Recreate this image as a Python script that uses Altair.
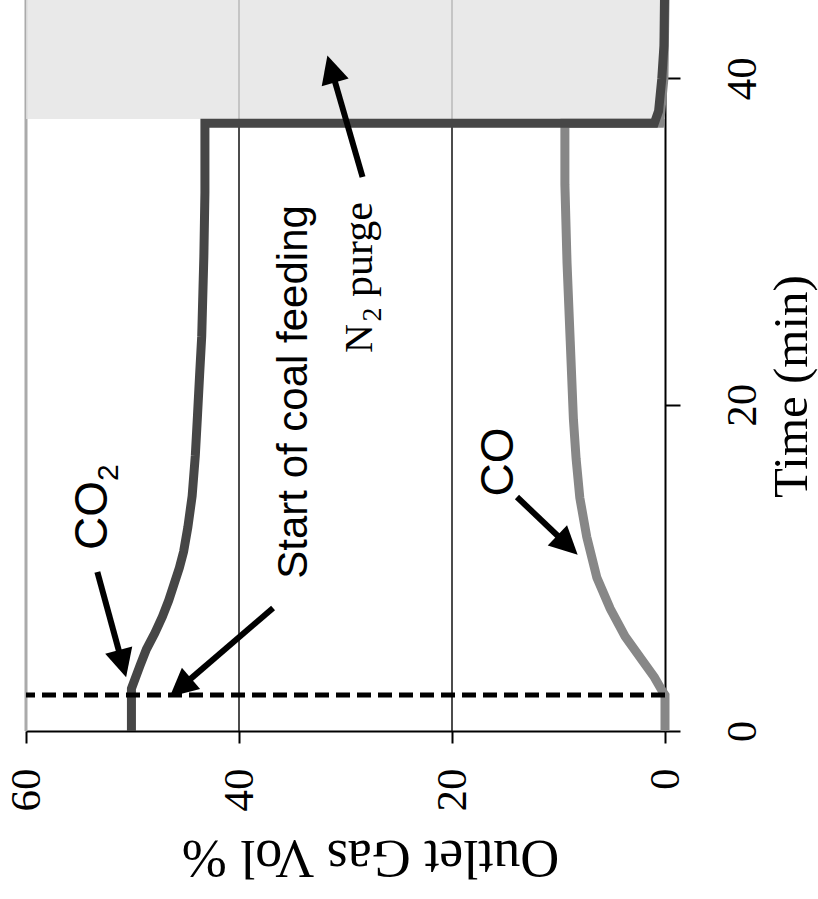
import math
import altair as alt
import pandas as pd

# ---------------- data ----------------
co2_time = [0, 2.6, 4.0, 5.0, 6.0, 7.0, 8.0, 9.0, 10.0, 11.0, 12.5, 14.4, 16.9, 19.3,
            21.8, 24.2, 29.1, 33.0, 37.25, 37.25, 38.0, 40.0, 42.0, 44.8]
co2_vol = [50.1, 50.1, 49.3, 48.7, 47.9, 47.2, 46.6, 46.1, 45.6, 45.2, 44.8, 44.4, 44.1, 43.9,
           43.7, 43.5, 43.3, 43.2, 43.2, 1.0, 0.6, 0.3, 0.1, 0.05]

co_time = [0, 2.2, 2.5, 3.3, 4.2, 5.8, 7.5, 9.4, 11.9, 14.3, 16.7, 19.1, 23.9, 28.7,
           33.5, 37.25, 37.25, 40.0, 44.8]
co_vol = [0, 0, 0.3, 1.0, 2.0, 3.75, 5.15, 6.4, 7.35, 8.0, 8.35, 8.6, 8.9, 9.2,
          9.4, 9.4, 0.5, 0.1, 0.0]

coal_start_time = [2.2]
purge_span = [37.5, 44.8]
grid_vol = [20, 40]
border_vol = [60]

vol_ticks = [0, 20, 40, 60]
time_ticks = [0, 20, 40]

arrow_start_vol = [53.3, 36.8, 28.4, 13.9]
arrow_start_time = [9.74, 7.54, 33.95, 14.34]
arrow_tip_vol = [50.6, 46.5, 31.7, 8.2]
arrow_tip_time = [3.3, 2.1, 41.4, 10.8]

# annotation texts
co2_text = ["CO"]
co2_text_vol = [52.39]
co2_text_time = [11.09]
co_text = ["CO"]
co_text_vol = [14.27]
co_text_time = [16.49]

coal_text = ["Start of coal feeding"]
coal_vol = [33.62]
coal_time = [20.78]

sub2_sans_vol = [51.36]
sub2_sans_time = [15.32]

n_text = ["N"]
n_vol = [27.51]
n_time = [23.17]
sub2_serif_vol = [26.67]
sub2_serif_time = [25.1]
purge_text = ["purge"]
purge_vol = [27.51]
purge_time = [26.6]

# ---------------- geometry / style ----------------
W, H = 639, 731
VMAX, TMAX = 60, 44.8
PX_V = W / VMAX
PX_T = H / TMAX
SERIF = "Liberation Serif"
SANS = "Liberation Sans"

xscale = alt.Scale(domain=[0, VMAX], reverse=True, nice=False, zero=False)
yscale = alt.Scale(domain=[0, TMAX], nice=False, zero=False)

xaxis = alt.Axis(
    values=vol_ticks, orient="bottom", grid=False,
    domainColor="black", domainWidth=2, tickColor="black", tickWidth=2, tickSize=12,
    labelAngle=270, labelAlign="right", labelBaseline="middle", labelPadding=25,
    labelFont=SERIF, labelFontSize=43, labelColor="black", labelFlush=False,
    labelOverlap=False,
    title="Outlet Gas Vol %", titleFont=SERIF, titleFontSize=54, titleFontWeight="normal",
    titleColor="black", titleAngle=180, titleAlign="center", titleBaseline="alphabetic",
    titleX=344, titleY=109,
)
yaxis = alt.Axis(
    values=time_ticks, orient="right", grid=False,
    domainColor="black", domainWidth=2, tickColor="black", tickWidth=2, tickSize=15,
    labelAngle=270, labelAlign="center", labelBaseline="top", labelPadding=41,
    labelFont=SERIF, labelFontSize=43, labelColor="black", labelFlush=False,
    labelOverlap=False,
    title="Time (min)", titleFont=SERIF, titleFontSize=49, titleFontWeight="normal",
    titleColor="black", titleAngle=270, titleAlign="center", titleBaseline="alphabetic",
    titleX=141, titleY=386,
)


def X(f):
    return alt.X(f"{f}:Q", scale=xscale, axis=xaxis)


def Y(f):
    return alt.Y(f"{f}:Q", scale=yscale, axis=yaxis)


# ---------------- tables ----------------
df_co2 = pd.DataFrame({"vol": co2_vol, "time": co2_time, "idx": range(len(co2_time))})
df_co = pd.DataFrame({"vol": co_vol, "time": co_time, "idx": range(len(co_time))})
df_grid = pd.DataFrame({"vol": grid_vol})
df_border = pd.DataFrame({"vol": border_vol})
df_shade = pd.DataFrame({"v0": [0], "v1": [VMAX], "t0": [purge_span[0]], "t1": [purge_span[1]]})
df_dash = pd.DataFrame({"time": coal_start_time})

HEAD = 14  # half size of arrow head in px
neck_v, neck_t, ang = [], [], []
for gs, ts, gt, tt in zip(arrow_start_vol, arrow_start_time, arrow_tip_vol, arrow_tip_time):
    dx = -(gt - gs) * PX_V
    dy = -(tt - ts) * PX_T
    L = math.hypot(dx, dy)
    ux, uy = dx / L, dy / L
    back = HEAD * 1.3
    neck_v.append(gt + back * ux / PX_V)
    neck_t.append(tt + back * uy / PX_T)
    ang.append(math.degrees(math.atan2(dx, -dy)) % 360)

df_shaft = pd.DataFrame({"vs": arrow_start_vol, "ts": arrow_start_time, "ve": neck_v, "te": neck_t})
df_head = pd.DataFrame({"vol": arrow_tip_vol, "time": arrow_tip_time, "ang": ang})

df_co2_text = pd.DataFrame({"vol": co2_text_vol, "time": co2_text_time, "label": co2_text})
df_co_text = pd.DataFrame({"vol": co_text_vol, "time": co_text_time, "label": co_text})
df_coal = pd.DataFrame({"vol": coal_vol, "time": coal_time, "label": coal_text})
df_sub_sans = pd.DataFrame({"vol": sub2_sans_vol, "time": sub2_sans_time, "label": ["2"]})
df_n = pd.DataFrame({"vol": n_vol, "time": n_time, "label": n_text})
df_sub_serif = pd.DataFrame({"vol": sub2_serif_vol, "time": sub2_serif_time, "label": ["2"]})
df_purge = pd.DataFrame({"vol": purge_vol, "time": purge_time, "label": purge_text})

# ---------------- layers ----------------
grid = alt.Chart(df_grid).mark_rule(color="#111111", strokeWidth=1.5).encode(x=X("vol"))
border = alt.Chart(df_border).mark_rule(color="#aaaaaa", strokeWidth=3).encode(x=X("vol"))
shade = alt.Chart(df_shade).mark_rect(color="#e4e4e4", opacity=0.8).encode(
    x=X("v0"), x2="v1", y=Y("t0"), y2="t1")

co_line = alt.Chart(df_co).mark_line(color="#878787", strokeWidth=9, strokeJoin="miter").encode(
    x=X("vol"), y=Y("time"), order="idx:Q")
co2_line = alt.Chart(df_co2).mark_line(color="#464646", strokeWidth=9, strokeJoin="miter").encode(
    x=X("vol"), y=Y("time"), order="idx:Q")

dash = alt.Chart(df_dash).mark_rule(color="black", strokeWidth=5, strokeDash=[14, 7]).encode(
    y=Y("time"))

shafts = alt.Chart(df_shaft).mark_rule(color="black", strokeWidth=6).encode(
    x=X("vs"), x2="ve", y=Y("ts"), y2="te")
heads = alt.Chart(df_head).mark_point(
    shape="M0,0L-1,2L1,2Z", filled=True, size=(2 * HEAD) ** 2, color="black", opacity=1,
    strokeWidth=0).encode(x=X("vol"), y=Y("time"), angle=alt.Angle("ang:Q", scale=None))


def txt(df, font, size, align):
    return alt.Chart(df).mark_text(
        font=font, fontSize=size, angle=270, align=align, baseline="alphabetic",
        color="black").encode(x=X("vol"), y=Y("time"), text="label:N")


t_co2 = txt(df_co2_text, SANS, 46, "left")
t_co = txt(df_co_text, SANS, 46, "center")
t_coal = txt(df_coal, SANS, 42, "center")
t_sub_sans = txt(df_sub_sans, SANS, 30, "left")
t_n = txt(df_n, SERIF, 40, "left")
t_sub_serif = txt(df_sub_serif, SERIF, 28, "left")
t_purge = txt(df_purge, SERIF, 42, "left")

chart = alt.layer(
    grid, border, shade, co_line, co2_line, dash, shafts, heads,
    t_co2, t_co, t_coal, t_sub_sans, t_n, t_sub_serif, t_purge,
).properties(
    width=W, height=H,
    autosize=alt.AutoSizeParams(type="none"),
    padding={"left": 26, "top": 0, "right": 818 - 26 - W, "bottom": 899 - H},
    background="white",
).configure_view(stroke=None).configure_axis(
    labelFont=SERIF, titleFont=SERIF, labelFontWeight="normal"
)

chart.save("out.html", embed_options={"renderer": "svg", "actions": False})
